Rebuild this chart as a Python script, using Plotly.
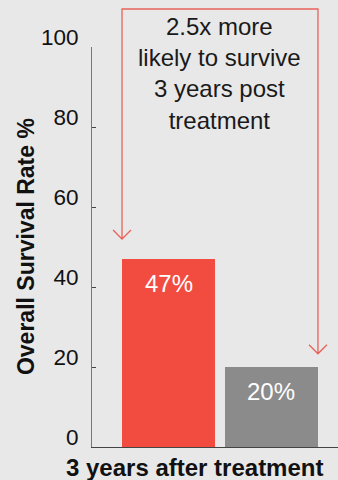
import plotly.graph_objects as go

# Survival at 3 years after treatment
groups = ["Treatment", "Control"]
survival = [47, 20]
bar_colors = ["#f24c40", "#8b8b8c"]
y_ticks = [0, 20, 40, 60, 80, 100]
callout_lines = ["2.5x more", "likely to survive", "3 years post", "treatment"]
arrow_tips = [52, 23.3]  # survival % level where each callout arrow ends

BG = "#e8e8e8"
RED_LINE = "#e8625a"
FONT = "Liberation Sans, Arial, Helvetica, sans-serif"

x_pos = list(range(len(groups)))
half_w = 0.4515

fig = go.Figure(
    go.Bar(
        x=x_pos,
        y=survival,
        marker=dict(color=bar_colors, line=dict(width=0)),
        width=2 * half_w,
        hoverinfo="skip",
    )
)

# value labels inside the top of each bar
for xv, v in zip(x_pos, survival):
    fig.add_annotation(
        x=xv, y=v, xref="x", yref="y", text=f"{v}%", showarrow=False,
        yanchor="top", yshift=-9,
        font=dict(family=FONT, size=24, color="#ffffff"),
    )

# bracket: top rail across both bars with arrows down to each bar
top = 1.095
xl, xr = x_pos[0] - half_w, x_pos[-1] + half_w
tip_l, tip_r = arrow_tips[0] / 100, arrow_tips[1] / 100
wx, wy = 0.087, 0.0225
path = (
    f"M {xl},{tip_l} L {xl},{top} L {xr},{top} L {xr},{tip_r} "
    f"M {xl - wx},{tip_l + wy} L {xl},{tip_l} L {xl + wx},{tip_l + wy} "
    f"M {xr - wx},{tip_r + wy} L {xr},{tip_r} L {xr + wx},{tip_r + wy}"
)
fig.add_shape(type="path", path=path, xref="x", yref="paper",
              line=dict(color=RED_LINE, width=1.3))

fig.add_annotation(
    x=(xl + xr) / 2, y=1.0905, xref="x", yref="paper",
    text="<br>".join(callout_lines), showarrow=False, yanchor="top",
    align="center", font=dict(family=FONT, size=24, color="#1a1a1a"),
)

# axis titles
fig.add_annotation(
    x=-0.268, y=0.5, xref="paper", yref="paper", text="<b>Overall Survival Rate %</b>",
    textangle=-90, showarrow=False, xanchor="center", yanchor="middle",
    font=dict(family=FONT, size=23, color="#111111"),
)
fig.add_annotation(
    x=0.417, y=-0.05, xref="paper", yref="paper", text="<b>3 years after treatment</b>",
    showarrow=False, xanchor="center", yanchor="middle",
    font=dict(family=FONT, size=24, color="#111111"),
)

fig.update_layout(
    width=338, height=480,
    margin=dict(l=92, r=0, t=47, b=33, autoexpand=False),
    paper_bgcolor=BG, plot_bgcolor=BG,
    showlegend=False,
    bargap=0,
    xaxis=dict(
        range=[-0.743, 1.646], showgrid=False, zeroline=False,
        showticklabels=False, ticks="", showline=True,
        linecolor="#444444", linewidth=1.2, fixedrange=True,
    ),
    yaxis=dict(
        range=[0, 100], tickvals=y_ticks, ticktext=[str(t) for t in y_ticks],
        showgrid=False, zeroline=False, showline=True,
        linecolor="#777777", linewidth=1,
        ticks="inside", ticklen=4, tickcolor="#444444", tickwidth=1,
        ticklabelstandoff=8, ticklabelshift=-10,
        tickfont=dict(family=FONT, size=22.5, color="#111111"),
        fixedrange=True,
    ),
)

fig.write_html("out.html", config={"displayModeBar": False})
